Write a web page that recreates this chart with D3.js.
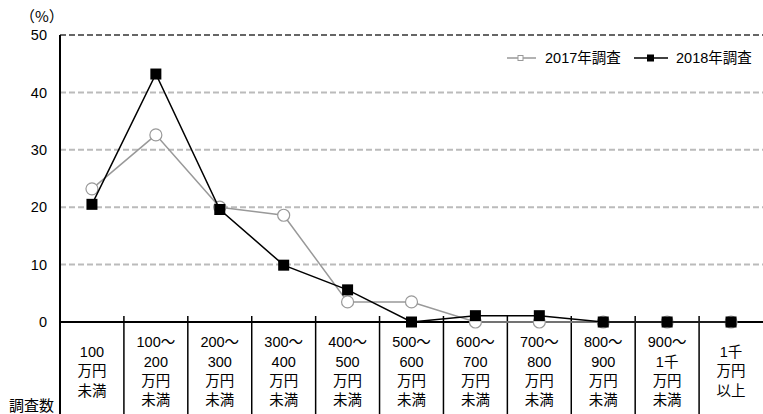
<!DOCTYPE html>
<html><head><meta charset="utf-8">
<script src="https://cdn.jsdelivr.net/npm/d3@7"></script>
<style>body{margin:0;background:#fff}svg{display:block}text{font-family:"Liberation Sans","Noto Sans CJK JP",sans-serif;fill:#000}</style>
</head><body><svg id="c" width="763" height="414"></svg>
<script>
const categories = [
  ["100","万円","未満"],
  ["100～","200","万円","未満"],
  ["200～","300","万円","未満"],
  ["300～","400","万円","未満"],
  ["400～","500","万円","未満"],
  ["500～","600","万円","未満"],
  ["600～","700","万円","未満"],
  ["700～","800","万円","未満"],
  ["800～","900","万円","未満"],
  ["900～","1千","万円","未満"],
  ["1千","万円","以上"]
];
const series2017 = [23.2, 32.6, 20.0, 18.6, 3.5, 3.5, 0, 0, 0, 0, 0];
const series2018 = [20.5, 43.2, 19.6, 9.9, 5.6, 0, 1.1, 1.1, 0, 0, 0];
const yTicks = [0, 10, 20, 30, 40, 50];
const seriesNames = ["2017年調査", "2018年調査"];

const svg = d3.select("#c");
const L = 60, R = 763, T = 35, B = 322;
const FS = 14.5;
const x = d3.scaleBand().domain(d3.range(categories.length)).range([L, R]);
const y = d3.scaleLinear().domain([0, 50]).range([B, T]);

// gridlines
svg.append("g").selectAll("line").data(yTicks.filter(d => d > 0)).join("line")
  .attr("x1", L).attr("x2", R).attr("y1", d => y(d)).attr("y2", d => y(d))
  .attr("stroke", d => d === 50 ? "#666" : "#bbb").attr("stroke-width", 2)
  .attr("stroke-dasharray", "6,3");

// y axis
const yAxis = d3.axisLeft(y).tickValues(yTicks).tickSize(0).tickPadding(13);
const ga = svg.append("g").attr("transform", `translate(${L},0)`).call(yAxis);
ga.select(".domain").remove();
ga.selectAll("text").attr("font-size", FS).style("font-family", "Liberation Sans, sans-serif");
svg.append("line").attr("x1", L).attr("x2", L).attr("y1", T).attr("y2", 414)
  .attr("stroke", "#000").attr("stroke-width", 2);
svg.append("text").attr("x", 20).attr("y", 17).attr("dy", "0.36em").attr("font-size", 15)
  .style("font-family", "Noto Sans CJK JP, sans-serif").text("（%）");

// x axis
svg.append("line").attr("x1", L).attr("x2", R).attr("y1", B).attr("y2", B)
  .attr("stroke", "#000").attr("stroke-width", 2);
const bounds = d3.range(1, categories.length).map(i => x(i));
svg.append("g").selectAll("line").data(bounds).join("line")
  .attr("x1", d => d).attr("x2", d => d).attr("y1", B - 6).attr("y2", 414)
  .attr("stroke", "#000").attr("stroke-width", 1.5);

// category labels
const lh = 19.3;
categories.forEach((lines, i) => {
  const cx = x(i) + x.bandwidth() / 2;
  const mid = 371;
  const start = mid - (lines.length - 1) * lh / 2;
  lines.forEach((t, j) => {
    svg.append("text").attr("x", cx).attr("y", start + j * lh)
      .attr("dy", "0.36em").attr("text-anchor", "middle").attr("font-size", FS).text(t);
  });
});
svg.append("text").attr("x", 9).attr("y", 411).attr("font-size", 15).text("調査数");

const cx = i => x(i) + x.bandwidth() / 2;
const line = d3.line().x((d, i) => cx(i)).y(d => y(d));

// 2017
svg.append("path").datum(series2017).attr("d", line).attr("fill", "none")
  .attr("stroke", "#999").attr("stroke-width", 1.5);
svg.append("g").selectAll("circle").data(series2017).join("circle")
  .attr("cx", (d, i) => cx(i)).attr("cy", d => y(d)).attr("r", 6)
  .attr("fill", "#fff").attr("stroke", "#999").attr("stroke-width", 1.2);

// 2018
svg.append("path").datum(series2018).attr("d", line).attr("fill", "none")
  .attr("stroke", "#000").attr("stroke-width", 1.5);
svg.append("g").selectAll("rect").data(series2018).join("rect")
  .attr("x", (d, i) => cx(i) - 5.5).attr("y", d => y(d) - 5.5)
  .attr("width", 11).attr("height", 11).attr("fill", "#000");

// legend
const lg = svg.append("g");
lg.append("line").attr("x1", 507).attr("x2", 536).attr("y1", 58).attr("y2", 58).attr("stroke", "#999").attr("stroke-width", 1.5);
lg.append("rect").attr("x", 518).attr("y", 55.5).attr("width", 5).attr("height", 5).attr("fill", "#fff").attr("stroke", "#999");
lg.append("text").attr("x", 545).attr("y", 58).attr("dy", "0.36em").attr("font-size", FS).text(seriesNames[0]);
lg.append("line").attr("x1", 634).attr("x2", 668).attr("y1", 58).attr("y2", 58).attr("stroke", "#000").attr("stroke-width", 1.5);
lg.append("rect").attr("x", 647).attr("y", 54.5).attr("width", 7).attr("height", 7).attr("fill", "#000");
lg.append("text").attr("x", 676).attr("y", 58).attr("dy", "0.36em").attr("font-size", FS).text(seriesNames[1]);
</script></body></html>
